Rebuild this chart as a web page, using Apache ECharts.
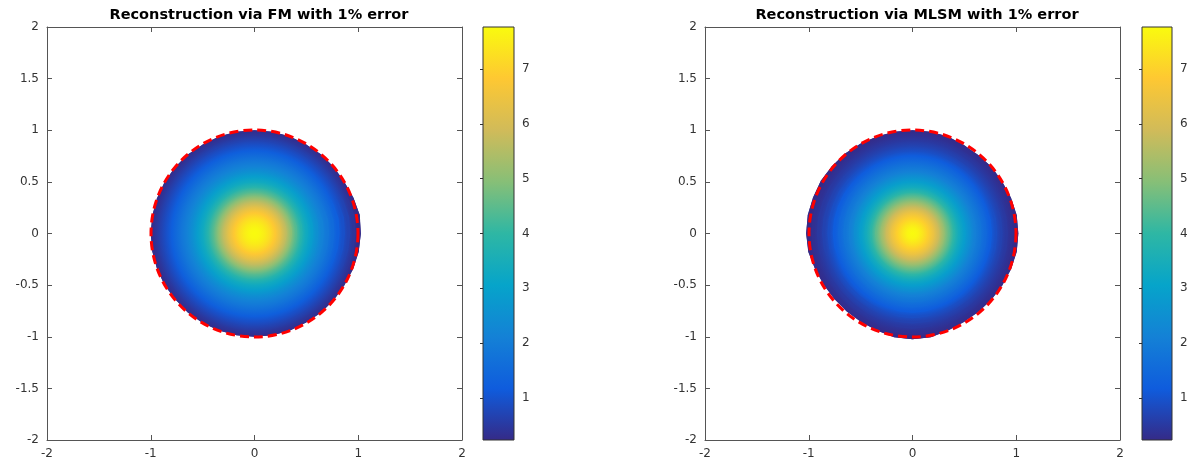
<!DOCTYPE html>
<html>
<head>
<meta charset="utf-8">
<script src="https://cdn.jsdelivr.net/npm/echarts@6/dist/echarts.min.js"></script>
<style>
html,body{margin:0;padding:0;background:#fff;}
#chart{width:1191px;height:475px;}
</style>
</head>
<body>
<div id="chart"></div>
<script>
// ---------- data ----------
const TITLES = ['Reconstruction via FM with 1% error', 'Reconstruction via MLSM with 1% error'];
const X_TICKS = [-2, -1, 0, 1, 2];
const Y_TICKS = [-2, -1.5, -1, -0.5, 0, 0.5, 1, 1.5, 2];
const CBAR_TICKS = [1, 2, 3, 4, 5, 6, 7];
const CBAR_MIN = 0.23;
const CBAR_MAX = 7.77;

// radial samples of the reconstructed field (normalised radius -> value)
const RADII = [0, 0.05, 0.1, 0.15, 0.2, 0.25, 0.3, 0.35, 0.4, 0.45, 0.5, 0.55, 0.6, 0.65, 0.7, 0.75, 0.8, 0.85, 0.9, 0.95, 1.0];
const FM_VALUES =   [7.77, 7.7, 7.5, 7.2, 6.8, 6.3, 5.7, 5.05, 4.4, 3.8, 3.3, 2.9, 2.5, 2.15, 1.85, 1.55, 1.25, 0.95, 0.7, 0.45, 0.25];
const MLSM_VALUES = [7.77, 7.65, 7.35, 6.95, 6.45, 5.85, 5.2, 4.55, 3.9, 3.35, 2.9, 2.5, 2.1, 1.8, 1.5, 1.2, 0.9, 0.68, 0.5, 0.35, 0.23];

// reconstructed boundary radius at each angle (degrees)
const ANGLES = [0, 10, 20, 30, 40, 50, 60, 70, 80, 90, 100, 110, 120, 130, 140, 150, 160, 170,
                180, 190, 200, 210, 220, 230, 240, 250, 260, 270, 280, 290, 300, 310, 320, 330, 340, 350];
const FM_BOUNDARY =   [1.025, 1.03, 1.015, 1.0, 1.0, 1.0, 0.995, 1.0, 1.0, 1.0, 1.0, 1.0, 0.995, 1.0, 1.0, 1.0, 1.0, 1.0,
                       1.0, 1.0, 1.0, 1.0, 0.995, 1.0, 1.0, 1.0, 1.0, 1.0, 1.0, 1.0, 0.995, 1.0, 1.0, 1.0, 1.01, 1.02];
const MLSM_BOUNDARY = [1.02, 1.02, 1.01, 1.0, 1.0, 0.99, 0.99, 1.0, 1.0, 1.0, 1.0, 1.0, 1.005, 1.01, 1.015, 1.02, 1.02, 1.025,
                       1.025, 1.02, 1.0, 0.99, 0.985, 0.985, 0.99, 1.0, 1.02, 1.025, 1.02, 1.0, 0.99, 0.99, 0.995, 1.0, 1.01, 1.02];

// true boundary: unit circle centred at origin
const TRUE_CIRCLE = [0, 0, 1];

const PARULA = ['#352a87', '#0f5cdd', '#1481d6', '#06a4ca', '#2eb7a4', '#87bf77', '#d1bb59', '#fec832', '#f9fb0e'];

// ---------- chart ----------
const chart = echarts.init(document.getElementById('chart'), null, {renderer: 'canvas'});

function colorOf(v) {
  return echarts.color.lerp((v - CBAR_MIN) / (CBAR_MAX - CBAR_MIN), PARULA);
}
// each band: [inner radius, inner value, outer radius, outer value], outermost first
function ringData(values) {
  const d = [];
  for (let i = RADII.length - 1; i >= 0; i--) {
    const j = Math.min(i + 1, RADII.length - 1);
    d.push([RADII[i], values[i], RADII[j], values[j]]);
  }
  return d;
}
function diskRender(boundary) {
  return function (params, api) {
    const r0 = api.value(0), v0 = api.value(1), r1 = api.value(2), v1 = api.value(3);
    const outer = Math.max(r1, r0);
    const pts = ANGLES.map((a, k) => {
      const t = a * Math.PI / 180;
      const r = outer * boundary[k];
      return api.coord([r * Math.cos(t), r * Math.sin(t)]);
    });
    const c = api.coord([0, 0]);
    const s = api.size([1, 1]);
    const pxR = Math.max(outer, 1e-6) * (s[0] + s[1]) / 2;
    let fill;
    if (r1 > r0) {
      fill = new echarts.graphic.RadialGradient(c[0], c[1], pxR, [
        {offset: r0 / r1, color: colorOf(v0)},
        {offset: 1, color: colorOf(v1)}
      ], true);
    } else {
      fill = colorOf(v0);
    }
    return {
      type: 'polygon',
      shape: {points: pts},
      style: {fill: fill, stroke: null}
    };
  };
}
function circleRender(params, api) {
  const c = api.coord([api.value(0), api.value(1)]);
  const s = api.size([api.value(2), api.value(2)]);
  return {
    type: 'circle',
    shape: {cx: c[0], cy: c[1], r: (s[0] + s[1]) / 2},
    style: {fill: null, stroke: '#ff0000', lineWidth: 3, lineDash: [9, 5]},
    z2: 10
  };
}
function cbarRender(params, api) {
  const p0 = api.coord([api.value(0), api.value(1)]);
  const p1 = api.coord([api.value(2), api.value(3)]);
  const stops = PARULA.map((c, i) => ({offset: 1 - i / (PARULA.length - 1), color: c})).reverse();
  return {
    type: 'rect',
    shape: {x: p0[0], y: p1[1], width: p1[0] - p0[0], height: p0[1] - p1[1]},
    style: {
      fill: new echarts.graphic.LinearGradient(0, 0, 0, 1, stops),
      stroke: '#333', lineWidth: 1
    }
  };
}

const AX_COLOR = '#555';
const LABEL = {color: '#333', fontSize: 12, fontFamily: 'DejaVu Sans'};

function plotAxes(gi) {
  const xs = [
    {gridIndex: gi, type: 'value', min: -2, max: 2, interval: 1, position: 'bottom',
     axisLine: {show: true, onZero: false, lineStyle: {color: AX_COLOR, width: 1}},
     axisTick: {show: true, inside: true, length: 5, lineStyle: {color: AX_COLOR}},
     axisLabel: Object.assign({margin: 8, customValues: X_TICKS}, LABEL), splitLine: {show: false}},
    {gridIndex: gi, type: 'value', min: -2, max: 2, interval: 1, position: 'top',
     axisLine: {show: true, onZero: false, lineStyle: {color: AX_COLOR, width: 1}},
     axisTick: {show: true, inside: true, length: 5, lineStyle: {color: AX_COLOR}},
     axisLabel: {show: false}, splitLine: {show: false}}
  ];
  const ys = [
    {gridIndex: gi, type: 'value', min: -2, max: 2, interval: 0.5, position: 'left',
     axisLine: {show: true, onZero: false, lineStyle: {color: AX_COLOR, width: 1}},
     axisTick: {show: true, inside: true, length: 5, lineStyle: {color: AX_COLOR}},
     axisLabel: Object.assign({margin: 8, customValues: Y_TICKS}, LABEL), splitLine: {show: false}},
    {gridIndex: gi, type: 'value', min: -2, max: 2, interval: 0.5, position: 'right',
     axisLine: {show: true, onZero: false, lineStyle: {color: AX_COLOR, width: 1}},
     axisTick: {show: true, inside: true, length: 5, lineStyle: {color: AX_COLOR}},
     axisLabel: {show: false}, splitLine: {show: false}}
  ];
  return {xs, ys};
}
const a0 = plotAxes(0), a1 = plotAxes(1);

function cbarAxes(gi) {
  return {
    x: {gridIndex: gi, type: 'value', min: 0, max: 1, show: false},
    y: {gridIndex: gi, type: 'value', min: CBAR_MIN, max: CBAR_MAX, position: 'right',
        axisLine: {show: false},
        axisTick: {show: true, inside: true, length: 3, customValues: CBAR_TICKS, lineStyle: {color: '#333'}},
        axisLabel: Object.assign({margin: 8, customValues: CBAR_TICKS}, LABEL),
        splitLine: {show: false}}
  };
}
const c0 = cbarAxes(2), c1 = cbarAxes(3);

const TITLE_STYLE = {fontFamily: 'DejaVu Sans', fontWeight: 'bold', fontSize: 14.5, color: '#000'};
const option = {
  backgroundColor: '#fff',
  animation: false,
  title: [
    {text: TITLES[0], left: 254, top: 3, textAlign: 'center', textStyle: TITLE_STYLE},
    {text: TITLES[1], left: 912, top: 3, textAlign: 'center', textStyle: TITLE_STYLE}
  ],
  grid: [
    {left: 47, top: 27, width: 415, height: 413},
    {left: 705, top: 27, width: 415, height: 413},
    {left: 483, top: 27, width: 31, height: 413},
    {left: 1142, top: 27, width: 30, height: 413}
  ],
  xAxis: [a0.xs[0], a0.xs[1], a1.xs[0], a1.xs[1], c0.x, c1.x],
  yAxis: [a0.ys[0], a0.ys[1], a1.ys[0], a1.ys[1], c0.y, c1.y],
  series: [
    {type: 'custom', xAxisIndex: 0, yAxisIndex: 0, renderItem: diskRender(FM_BOUNDARY), data: ringData(FM_VALUES), z: 2},
    {type: 'custom', xAxisIndex: 0, yAxisIndex: 0, renderItem: circleRender, data: [TRUE_CIRCLE], z: 3},
    {type: 'custom', xAxisIndex: 2, yAxisIndex: 2, renderItem: diskRender(MLSM_BOUNDARY), data: ringData(MLSM_VALUES), z: 2},
    {type: 'custom', xAxisIndex: 2, yAxisIndex: 2, renderItem: circleRender, data: [TRUE_CIRCLE], z: 3},
    {type: 'custom', xAxisIndex: 4, yAxisIndex: 4, renderItem: cbarRender, data: [[0, CBAR_MIN, 1, CBAR_MAX]]},
    {type: 'custom', xAxisIndex: 5, yAxisIndex: 5, renderItem: cbarRender, data: [[0, CBAR_MIN, 1, CBAR_MAX]]}
  ]
};
chart.setOption(option);
</script>
</body>
</html>
